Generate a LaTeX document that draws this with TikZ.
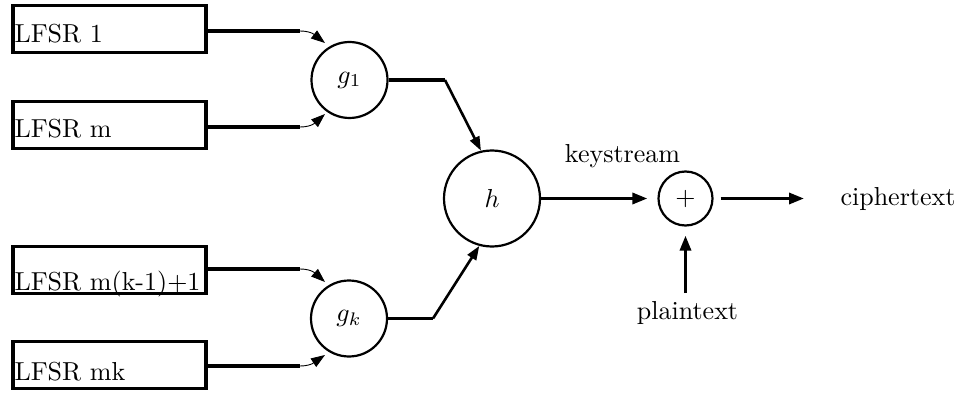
\documentclass[tikz,border=0pt]{standalone}
\usetikzlibrary{arrows.meta}
\begin{document}
\begin{tikzpicture}[x=1pt,y=-1pt,
  regbox/.style={draw,line width=3.2pt,minimum width=193pt,minimum height=47pt,inner sep=0pt},
  lbl/.style={scale=2.6,inner sep=0pt},
  fun/.style={draw,circle,line width=2.2pt,inner sep=0pt},
  thk/.style={line width=3.4pt},
  dia/.style={line width=2.6pt,-{Triangle[length=14pt,width=10pt]}},
  arr/.style={line width=3.2pt,-{Triangle[length=15pt,width=11pt]}},
  thin/.style={line width=0.9pt,-{Triangle[length=14pt,width=10pt]}}]
\useasboundingbox (0,0) rectangle (959,393);
% registers
\node[regbox] (r1) at (109.5,29) {};
\node[regbox] (r2) at (109.5,125) {};
\node[regbox] (r3) at (109.5,270) {};
\node[regbox] (r4) at (109.5,365) {};
\node[lbl,anchor=base west] (t1) at (14,43) {LFSR 1};
\node[lbl,anchor=base west] (t2) at (14,138) {LFSR m};
\node[lbl,anchor=base west] (t3) at (14,290) {LFSR m(k-1)+1};
\node[lbl,anchor=base west] (t4) at (14,380) {LFSR mk};
% combining functions
\node[fun,minimum size=76pt] (g1) at (349.5,80) {\scalebox{2.6}{$g_1$}};
\node[fun,minimum size=76pt] (gk) at (349,318.5) {\scalebox{2.6}{$g_k$}};
\node[fun,minimum size=96pt] (h) at (492,198.5) {\scalebox{2.6}{$h$}};
\node[fun,minimum size=54pt] (p) at (685.5,198.5) {\scalebox{2.6}{$+$}};
% labels
\node[lbl,anchor=base] (ks) at (622.5,163) {keystream};
\node[lbl,anchor=base west] (ct) at (840,205) {ciphertext};
\node[lbl,anchor=base,inner sep=2.8pt] (pt) at (687.5,319) {plaintext};
% inputs to g1 / gk
\coordinate (a1) at (300,31);
\coordinate (a2) at (300,127);
\coordinate (a3) at (300,269);
\coordinate (a4) at (300,366);
\draw[thk] (r1.east |- a1) -- (a1);
\draw[thk] (r2.east |- a2) -- (a2);
\draw[thk] (r3.east |- a3) -- (a3);
\draw[thk] (r4.east |- a4) -- (a4);
\draw[thin] (a1) .. controls (312,31) and (316,36) .. (325,43);
\draw[thin] (a2) .. controls (312,127) and (316,122) .. (325,114);
\draw[thin] (a3) .. controls (312,269) and (316,274) .. (325,282);
\draw[thin] (a4) .. controls (312,366) and (316,361) .. (325,355);
% g to h
\coordinate (b1) at (445,80);
\coordinate (b2) at (433,318.5);
\draw[thk] (g1.east) -- (b1);
\draw[dia] (b1) -- (h.103);
\draw[thk] (gk.east) -- (b2);
\draw[dia] (b2) -- (h.255);
% h to + to ciphertext
\draw[arr,shorten >=10pt] (h.east) -- (p.west);
\draw[arr,shorten <=7pt] (p.east) -- (804,198.5) coordinate (c1);
\draw[arr,shorten >=9pt] (p.south |- pt.north) -- (p.south);
\end{tikzpicture}
\end{document}
